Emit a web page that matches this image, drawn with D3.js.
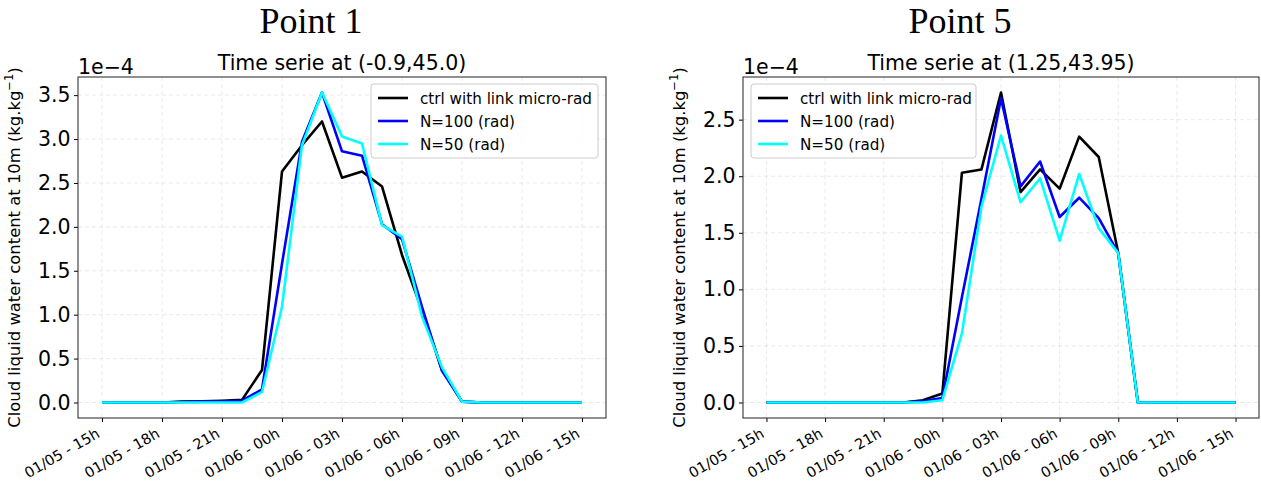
<!DOCTYPE html>
<html><head><meta charset="utf-8">
<script src="https://cdn.jsdelivr.net/npm/d3@7/dist/d3.min.js"></script>
<style>
body{margin:0;background:#fff;}
svg{display:block;}
</style></head>
<body>
<svg id="chart" width="1261" height="486"></svg>
<script>
// hourly time steps, 01/05 15h .. 01/06 15h
const timeLabels = ["01/05 - 15h","01/05 - 16h","01/05 - 17h","01/05 - 18h","01/05 - 19h","01/05 - 20h","01/05 - 21h","01/05 - 22h","01/05 - 23h",
  "01/06 - 00h","01/06 - 01h","01/06 - 02h","01/06 - 03h","01/06 - 04h","01/06 - 05h","01/06 - 06h","01/06 - 07h","01/06 - 08h",
  "01/06 - 09h","01/06 - 10h","01/06 - 11h","01/06 - 12h","01/06 - 13h","01/06 - 14h","01/06 - 15h"];
const xTickLabels = ["01/05 - 15h","01/05 - 18h","01/05 - 21h","01/06 - 00h","01/06 - 03h","01/06 - 06h","01/06 - 09h","01/06 - 12h","01/06 - 15h"];
const seriesNames = ["ctrl with link micro-rad","N=100 (rad)","N=50 (rad)"];
const seriesColors = ["#000000","#0000ff","#00ffff"];

// Point 1 (values x 1e-4 kg/kg)
const p1_ctrl = [0,0,0,0,0.01,0.015,0.02,0.03,0.37,2.63,2.93,3.20,2.56,2.63,2.46,1.68,1.05,0.37,0.01,0,0,0,0,0,0];
const p1_n100 = [0,0,0,0,0.005,0.01,0.01,0.02,0.15,1.58,2.97,3.53,2.86,2.81,2.03,1.86,1.09,0.36,0.01,0,0,0,0,0,0];
const p1_n50  = [0,0,0,0,0,0,0,0,0.12,1.09,2.93,3.53,3.03,2.95,2.02,1.89,0.98,0.40,0.01,0,0,0,0,0,0];

// Point 5
const p5_ctrl = [0,0,0,0,0,0,0,0,0.02,0.08,2.03,2.06,2.74,1.86,2.06,1.89,2.35,2.17,1.32,0,0,0,0,0,0];
const p5_n100 = [0,0,0,0,0,0,0,0,0.01,0.04,0.93,1.80,2.69,1.91,2.13,1.64,1.81,1.63,1.32,0,0,0,0,0,0];
const p5_n50  = [0,0,0,0,0,0,0,0,0,0.02,0.61,1.73,2.36,1.77,1.98,1.43,2.02,1.54,1.32,0,0,0,0,0,0];

const yTicks1 = [0,0.5,1.0,1.5,2.0,2.5,3.0,3.5];
const yTicks5 = [0,0.5,1.0,1.5,2.0,2.5];

const panels = [
  {sup:"Point 1", supX:311, title:"Time serie at (-0.9,45.0)", x0:78, x1:606, data:[p1_ctrl,p1_n100,p1_n50], yTicks:yTicks1, legendX:371, legendW:227},
  {sup:"Point 5", supX:960, title:"Time serie at (1.25,43.95)", x0:743, x1:1259, data:[p5_ctrl,p5_n100,p5_n50], yTicks:yTicks5, legendX:751, legendW:225}
];
const y0 = 77, y1 = 418;
const svg = d3.select("#chart");
const FONT = "'DejaVu Sans', sans-serif";

panels.forEach(p => {
  const n = timeLabels.length;
  const x = d3.scaleLinear().domain([-0.05*(n-1), (n-1)*1.05]).range([p.x0, p.x1]);
  const maxV = d3.max(p.data, s => d3.max(s));
  const minV = d3.min(p.data, s => d3.min(s));
  const pad = (maxV - minV)*0.05;
  const y = d3.scaleLinear().domain([minV-pad, maxV+pad]).range([y1, y0]);
  const g = svg.append("g");

  // suptitle
  svg.append("text").attr("x", p.supX).attr("y", 33).attr("text-anchor","middle")
    .attr("font-family","'Liberation Serif', 'DejaVu Serif', serif").attr("font-size", 36).text(p.sup);

  // grid
  const xTickIdx = xTickLabels.map(l => timeLabels.indexOf(l));
  g.selectAll(".gx").data(xTickIdx).enter().append("line")
    .attr("x1", d => x(d)).attr("x2", d => x(d)).attr("y1", y0).attr("y2", y1)
    .attr("stroke","#b0b0b0").attr("stroke-opacity",0.3).attr("stroke-dasharray","4,3").attr("stroke-width",0.9);
  g.selectAll(".gy").data(p.yTicks).enter().append("line")
    .attr("x1", p.x0).attr("x2", p.x1).attr("y1", d => y(d)).attr("y2", d => y(d))
    .attr("stroke","#b0b0b0").attr("stroke-opacity",0.3).attr("stroke-dasharray","4,3").attr("stroke-width",0.9);

  // lines
  const line = d3.line().x((d,i) => x(i)).y(d => y(d));
  p.data.forEach((s, k) => {
    g.append("path").datum(s).attr("d", line).attr("fill","none")
      .attr("stroke", seriesColors[k]).attr("stroke-width", 2.6).attr("stroke-linejoin","round");
  });

  // axes
  const xAxis = d3.axisBottom(x).tickValues(xTickIdx).tickFormat(d => timeLabels[d]).tickSize(4).tickPadding(3);
  const gx = g.append("g").attr("transform", `translate(0,${y1})`).call(xAxis);
  gx.select(".domain").remove();
  gx.selectAll("text").attr("font-family", FONT).attr("font-size", 14.5).attr("fill","#000")
    .attr("text-anchor","end").attr("x", 0).attr("y", 0).attr("dy", 0)
    .attr("transform","translate(-1.7,18.5) rotate(-30)");
  gx.selectAll("line").attr("stroke","#000");

  const yAxis = d3.axisLeft(y).tickValues(p.yTicks).tickFormat(d3.format(".1f")).tickSize(4).tickPadding(3.5);
  const gy = g.append("g").attr("transform", `translate(${p.x0},0)`).call(yAxis);
  gy.select(".domain").remove();
  gy.selectAll("text").attr("font-family", FONT).attr("font-size", 20.5).attr("fill","#000");
  gy.selectAll("line").attr("stroke","#000");

  // frame
  g.append("rect").attr("x", p.x0).attr("y", y0).attr("width", p.x1-p.x0).attr("height", y1-y0)
    .attr("fill","none").attr("stroke","#222").attr("stroke-width",1);

  // title & offset
  g.append("text").attr("x", (p.x0+p.x1)/2).attr("y", 70).attr("text-anchor","middle")
    .attr("font-family", FONT).attr("font-size", 20.5).text(p.title);
  g.append("text").attr("x", p.x0).attr("y", 74).attr("font-family", FONT).attr("font-size", 20.5).text("1e\u22124");

  // y label
  const yl = g.append("text").attr("transform", `translate(${p.x0-58},${(y0+y1)/2}) rotate(-90)`)
    .attr("text-anchor","middle").attr("font-family", FONT).attr("font-size", 16.4);
  yl.append("tspan").text("Cloud liquid water content at 10m (kg.kg");
  yl.append("tspan").attr("dy", -7).attr("font-size", 11.5).text("\u22121");
  yl.append("tspan").attr("dy", 7).text(")");

  // legend
  const lg = g.append("g").attr("transform", `translate(${p.legendX},84)`);
  lg.append("rect").attr("width", p.legendW).attr("height", 74).attr("rx",3)
    .attr("fill","#fff").attr("fill-opacity",0.8).attr("stroke","#ccc").attr("stroke-width",1);
  seriesNames.forEach((nm, k) => {
    const yy = 14 + k*23;
    lg.append("line").attr("x1", 7).attr("x2", 37).attr("y1", yy).attr("y2", yy)
      .attr("stroke", seriesColors[k]).attr("stroke-width", 2.6);
    lg.append("text").attr("x", 49).attr("y", yy+5.5).attr("font-family", FONT).attr("font-size", 15.2).text(nm);
  });
});
</script>
</body></html>
